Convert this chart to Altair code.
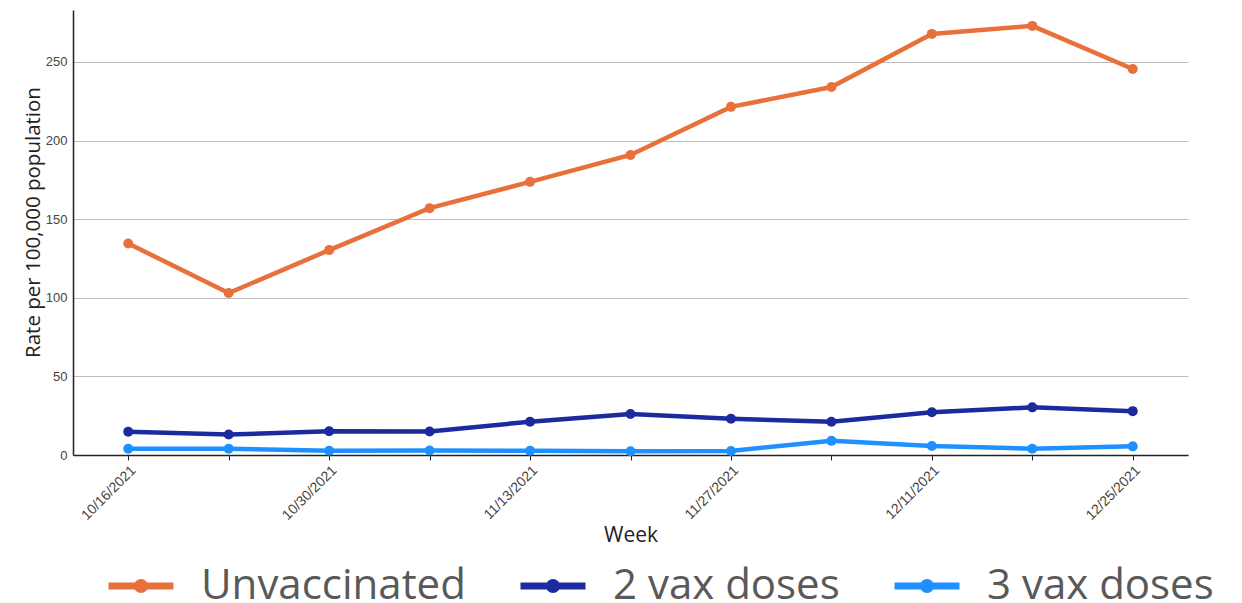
import altair as alt
import pandas as pd

weeks = ["10/16/2021", "10/23/2021", "10/30/2021", "11/6/2021", "11/13/2021",
         "11/20/2021", "11/27/2021", "12/4/2021", "12/11/2021", "12/18/2021",
         "12/25/2021"]
labeled_weeks = ["10/16/2021", "10/30/2021", "11/13/2021", "11/27/2021",
                 "12/11/2021", "12/25/2021"]
series = ["Unvaccinated", "2 vax doses", "3 vax doses"]
unvaccinated = [134.5, 103, 130.3, 157, 173.7, 190.8, 221.4, 234, 267.8, 272.9, 245.5]
two_doses = [14.8, 13.0, 15.1, 14.9, 21.2, 26.1, 23.0, 21.2, 27.2, 30.3, 27.9]
three_doses = [4.0, 4.0, 2.7, 2.9, 2.7, 2.4, 2.6, 9.0, 5.7, 4.0, 5.5]
colors = ["#E8713B", "#1B2A9E", "#1E90FF"]
y_ticks = [0, 50, 100, 150, 200, 250]

rows = []
for name, vals in zip(series, [unvaccinated, two_doses, three_doses]):
    for w, v in zip(weeks, vals):
        rows.append({"Week": w, "Series": name, "Rate": v})
df = pd.DataFrame(rows)

label_list = "[" + ",".join("'" + w + "'" for w in labeled_weeks) + "]"
legend_path = ("M-1,0 L1,0 M-0.11,0 A0.11,0.11 0 1,1 0.11,0 "
               "A0.11,0.11 0 1,1 -0.11,0")

chart = alt.Chart(df).mark_line(
    strokeWidth=4.5,
    point=alt.OverlayMarkDef(size=100, filled=True, opacity=1),
).encode(
    x=alt.X("Week:N", sort=weeks,
            scale=alt.Scale(type="point", padding=0.55),
            axis=alt.Axis(
                title="Week", labelAngle=-45,
                labelExpr="indexof(" + label_list + ", datum.value) >= 0 ? datum.label : ''",
                labelFont="Liberation Sans", labelFontSize=14, labelColor="#444444",
                labelPadding=3,
                ticks=True, tickSize=5, tickColor="#222222", tickWidth=1,
                domainColor="#222222", domainWidth=1.5,
                titleFont="Open Sans", titleFontSize=21, titleFontWeight="normal",
                titleColor="#222222", titleY=80, titleBaseline="middle",
                grid=False)),
    y=alt.Y("Rate:Q",
            scale=alt.Scale(domain=[0, 283], nice=False, zero=True),
            axis=alt.Axis(
                title="Rate per 100,000 population", values=y_ticks,
                labelFont="Liberation Sans", labelFontSize=13, labelColor="#444444",
                labelPadding=6, ticks=False,
                domainColor="#222222", domainWidth=1.5,
                grid=True, gridColor="#BDBDBD", gridWidth=1,
                titleFont="Open Sans", titleFontSize=20.5, titleFontWeight="normal",
                titleColor="#222222", titleX=-40, titleY=212,
                titleBaseline="middle")),
    color=alt.Color("Series:N",
                    scale=alt.Scale(domain=series, range=colors),
                    legend=alt.Legend(
                        orient="none", legendX=32, legendY=540,
                        direction="horizontal", title=None,
                        symbolType=legend_path, symbolSize=4225,
                        symbolStrokeWidth=7, symbolOpacity=1,
                        labelFont="Open Sans",
                        labelFontSize=42, labelColor="#595959", labelLimit=0,
                        labelOffset=24, columnPadding=40, padding=0)),
).properties(
    width=1115, height=445,
    autosize=alt.AutoSizeParams(type="none"),
    padding={"left": 65, "top": 2, "right": 40, "bottom": 146},
).configure_view(stroke=None)

chart.save("out.html", embed_options={"renderer": "svg", "actions": False})
